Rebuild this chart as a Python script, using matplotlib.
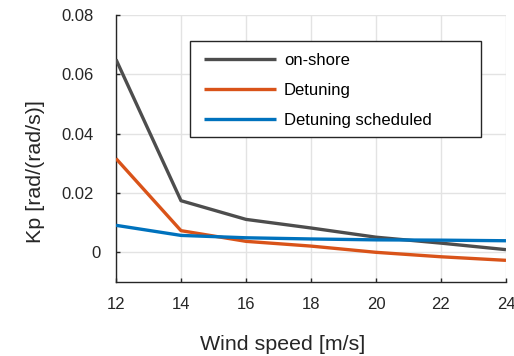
import matplotlib
matplotlib.use("Agg")
import matplotlib.pyplot as plt
from matplotlib.patches import Rectangle
from matplotlib.transforms import ScaledTranslation

plt.rcParams["font.family"] = ["Liberation Sans", "DejaVu Sans"]

wind = [12, 14, 16, 18, 20, 22, 24]
onshore = [0.065, 0.0174, 0.0111, 0.0082, 0.0051, 0.0031, 0.0009]
detuning = [0.0316, 0.0073, 0.0037, 0.0021, 0.0000, -0.0015, -0.0027]
detuning_sched = [0.0091, 0.0057, 0.0049, 0.0045, 0.0042, 0.0041, 0.0039]

labels = ["on-shore", "Detuning", "Detuning scheduled"]
colors = ["#4d4d4d", "#d95319", "#0072bd"]

fig = plt.figure(figsize=(5.14, 3.56), dpi=100)
ax = fig.add_axes([0.2257, 0.2079, 0.7587, 0.75])

for ys, lab, c in zip([onshore, detuning, detuning_sched], labels, colors):
    ax.plot(wind, ys, color=c, lw=2.4, label=lab, solid_capstyle="butt", zorder=3)

ax.set_xlim(12, 24)
ax.set_ylim(-0.01, 0.08)
ax.set_xticks(range(12, 25, 2))
yt = [0, 0.02, 0.04, 0.06, 0.08]
ax.set_yticks(yt)
ax.set_yticklabels(["0", "0.02", "0.04", "0.06", "0.08"])
ax.grid(True, color="#e3e3e3", lw=1)
ax.set_axisbelow(True)

for s in ["top", "right"]:
    ax.spines[s].set_visible(False)
for s in ["left", "bottom"]:
    ax.spines[s].set_color("#262626")
    ax.spines[s].set_linewidth(1)

ax.tick_params(axis="both", direction="in", length=3, width=1, color="#262626",
               labelsize=12, labelcolor="#262626")
ax.tick_params(axis="x", pad=11)
ax.tick_params(axis="y", pad=16)

# the "0" label sits a bit further right in the original
for lbl in ax.get_yticklabels():
    if lbl.get_text() == "0":
        lbl.set_transform(lbl.get_transform() + ScaledTranslation(6.7 / 100, 0, fig.dpi_scale_trans))

ax.set_xlabel("Wind speed [m/s]", fontsize=15.4, color="#262626")
ax.set_ylabel("Kp [rad/(rad/s)]", fontsize=15.4, color="#262626")
ax.xaxis.set_label_coords(0.427, -0.197)
ax.yaxis.set_label_coords(-0.183, 0.412)

# legend frame
ax.add_patch(Rectangle((0.1897, 0.542), 0.745, 0.3617, transform=ax.transAxes,
                       facecolor="white", edgecolor="#262626", lw=1, zorder=4))
leg = ax.legend(loc="upper left", bbox_to_anchor=(0.2256, 0.9037 - 0.045),
                borderaxespad=0, borderpad=0, frameon=False, fontsize=12,
                handlelength=4.3, handletextpad=0.5, labelspacing=0.9)
leg.set_zorder(5)

fig.savefig("out.png", dpi=100)
